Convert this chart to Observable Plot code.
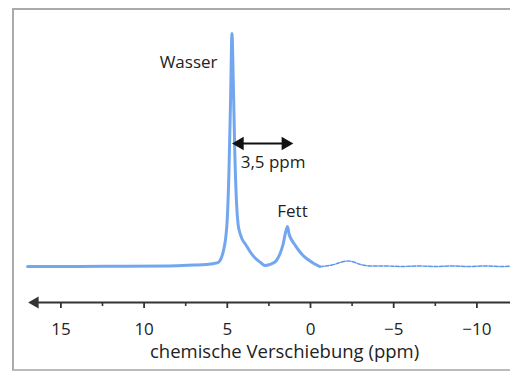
<!DOCTYPE html>
<html>
<head>
<meta charset="utf-8">
<script src="https://cdn.jsdelivr.net/npm/d3@7"></script>
<script src="https://cdn.jsdelivr.net/npm/@observablehq/plot@0.6"></script>
<style>
  html, body { margin: 0; padding: 0; background: #fff; }
  #wrap { position: relative; width: 510px; height: 372px; overflow: hidden; }
  #frame { position: absolute; left: 12px; top: 8px; width: 520px; height: 363px; box-sizing: border-box;
           border-left: 2px solid #aaa; border-top: 2px solid #aaa; border-bottom: 2px solid #bbb; }
  #chart { position: absolute; left: 0; top: 0; }
</style>
</head>
<body>
<div id="wrap"><div id="frame"></div><div id="chart"></div></div>
<script>
// chemical shift (ppm) and signal intensity (arbitrary units), main spectrum part
const ppmMain = [17.0, 14, 11, 8.5, 7.0, 6.3, 5.8, 5.55, 5.35, 5.2, 5.1, 5.0, 4.9, 4.8, 4.72, 4.64, 4.55, 4.45, 4.35, 4.25, 4.1, 3.9, 3.6, 3.3, 3.0, 2.75, 2.55, 2.3, 2.05, 1.85, 1.65, 1.5, 1.38, 1.28, 1.15, 0.95, 0.7, 0.45, 0.15, -0.2, -0.55];
const intMain = [0, 0, 0.3, 0.6, 1.5, 2, 3, 4, 9, 18, 28, 48, 95, 170, 233, 185, 115, 65, 42, 34, 27, 22, 14, 8, 4, 1, 1.5, 3, 6, 12, 22, 34, 40, 32, 27, 22, 16, 11, 7, 3, 0];
// noisy tail
const ppmTail = [-0.55, -0.9, -1.3, -1.7, -2.0, -2.3, -2.6, -2.9, -3.3, -3.8, -4.5, -5.5, -6.5, -7.5, -8.5, -9.5, -10.5, -11.5, -12.0];
const intTail = [0, 0.5, 1.5, 3.5, 5, 5.5, 4.5, 2.5, 1, 0.5, 0.5, 0, 0.5, 0, 0.5, 0, 0.5, 0, 0.3];
// axis ticks
const majorTicks = [15, 10, 5, 0, -5, -10];
const minorTicks = [12.5, 7.5, 2.5, -2.5, -7.5];
// labels
const peakLabels = ["Wasser", "Fett"];
const shiftLabel = "3,5 ppm";
const axisLabel = "chemische Verschiebung (ppm)";

const mainData = ppmMain.map((p, i) => ({ppm: p, v: intMain[i]}));
const tailData = ppmTail.map((p, i) => ({ppm: p, v: intTail[i]}));

const blue = "#72a7f0";
const ink = "#222";
const font = "'Open Sans', 'Noto Sans', sans-serif";
const yAxis = -36;

const chart = Plot.plot({
  width: 510,
  height: 372,
  marginLeft: 0,
  marginRight: 0,
  marginTop: 33,
  marginBottom: 70,
  style: {fontFamily: font, fontSize: "17px", color: ink, background: "transparent", overflow: "visible"},
  x: {domain: [18.63, -12.02]},
  y: {domain: [yAxis, 233], axis: null},
  marks: [
    // x axis line with arrow
    Plot.ruleY([yAxis], {x1: 16.75, x2: -12.5, stroke: "#333", strokeWidth: 2}),
    Plot.dot([{x: 16.55}], {x: "x", y: yAxis, symbol: "triangle", rotate: -90, r: 4.5, fill: "#333", stroke: "none"}),
    Plot.axisX({ticks: majorTicks, tickSize: 6, tickPadding: 14, tickFormat: d => d < 0 ? "\u2212" + Math.abs(d) : String(d), stroke: "#333", strokeWidth: 1.8, fill: ink, fontSize: 17, label: null}),
    Plot.axisX({ticks: minorTicks, tickSize: 4, tickFormat: () => "", stroke: "#333", strokeWidth: 1.6, label: null}),
    Plot.text([axisLabel], {x: 1.56, y: yAxis, dy: 50, text: d => d, fontSize: 18.5, fill: ink}),
    // spectrum
    Plot.line(tailData, {x: "ppm", y: "v", stroke: "#5b95ec", strokeWidth: 1.4, strokeDasharray: "4 1.5", curve: "monotone-x"}),
    Plot.line(mainData, {x: "ppm", y: "v", stroke: blue, strokeWidth: 3, curve: "monotone-x", strokeLinejoin: "round"}),
    // annotations
    Plot.text([peakLabels[0]], {x: 5.59, y: 204, text: d => d, textAnchor: "end", fontSize: 17, fill: ink}),
    Plot.text([peakLabels[1]], {x: 1.08, y: 55, text: d => d, fontSize: 17, fill: ink}),
    Plot.text([shiftLabel], {x: 2.25, y: 104, text: d => d, fontSize: 17, fill: ink}),
    Plot.ruleY([123], {x1: 4.25, x2: 1.5, stroke: "#111", strokeWidth: 2}),
    Plot.dot([{x: 4.25}], {x: "x", y: 123, symbol: "triangle", rotate: -90, r: 5, fill: "#111", stroke: "none"}),
    Plot.dot([{x: 1.5}], {x: "x", y: 123, symbol: "triangle", rotate: 90, r: 5, fill: "#111", stroke: "none"})
  ]
});
document.getElementById("chart").appendChild(chart);
</script>
</body>
</html>
